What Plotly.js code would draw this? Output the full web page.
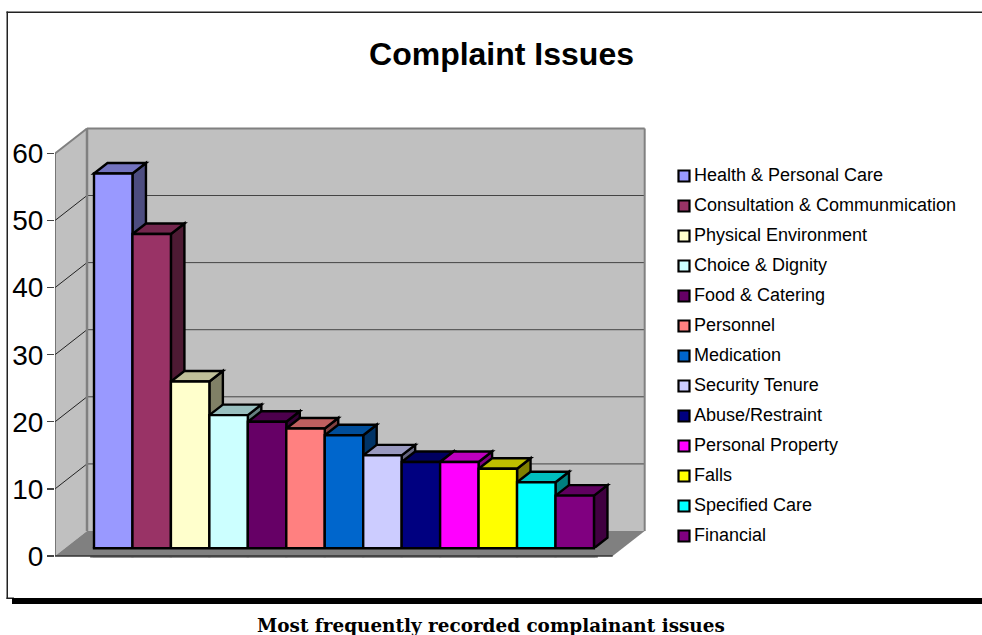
<!DOCTYPE html>
<html>
<head>
<meta charset="utf-8">
<script src="https://cdn.plot.ly/plotly-3.0.1.min.js"></script>
<style>html,body{margin:0;padding:0;background:#fff;overflow:hidden}</style>
</head>
<body>
<div id="chart" style="width:982px;height:635px"></div>
<script>
const categories = ["Health & Personal Care","Consultation & Communmication","Physical Environment","Choice & Dignity","Food & Catering","Personnel","Medication","Security Tenure","Abuse/Restraint","Personal Property","Falls","Specified Care","Financial"];
const values = [57,48,26,21,20,19,18,15,14,14,13,11,9];
const colors = ["#9999FF","#993366","#FFFFCC","#CCFFFF","#660066","#FF8080","#0066CC","#CCCCFF","#000080","#FF00FF","#FFFF00","#00FFFF","#800080"];
const tickValues = [0,10,20,30,40,50,60];

const W = 982, H = 635;
const PXX = 38.46, PXY = 6.71;            // pixels per category / per unit
const wallDX = 32/PXX, wallDY = 25/PXY;   // depth of the chart box
const barDX = 13.5/PXX, barDY = 10.5/PXY; // depth of a bar
const barFloor = 7.8/PXY;                 // bars stand back from the front edge
const xMin = -1.514, xMax = 14.087, yMin = -2.086, yMax = 64.98;
const floorRight = xMin + 557.7/PXX;
const topV = 60;
const FONT = "Liberation Sans, Arial, sans-serif";

function shade(hex, f){
  const n = parseInt(hex.slice(1),16);
  const c = [n>>16&255, n>>8&255, n&255].map(v=>Math.round(v*f));
  return "rgb("+c.join(",")+")";
}
function poly(pts, fill, lineColor, lineW, layer){
  return {type:"path", xref:"x", yref:"y", layer:layer||"below",
    path:"M"+pts.map(p=>p[0]+","+p[1]).join("L")+"Z",
    fillcolor:fill, line:{color:lineColor||fill, width:lineW===undefined?0:lineW}};
}
function seg(x0,y0,x1,y1,color,w,layer){
  return {type:"line", xref:"x", yref:"y", layer:layer||"below", x0,y0,x1,y1, line:{color,width:w}};
}
function pageRect(x0,y0,x1,y1,fill){
  return {type:"rect", xref:"paper", yref:"paper", layer:"below",
    x0:x0/W, x1:x1/W, y0:1-y1/H, y1:1-y0/H, fillcolor:fill, line:{width:0}};
}

const shapes = [];
// page frame
shapes.push(pageRect(6.5,11.5,982,13,"#222"));
shapes.push(pageRect(6.5,11.5,8,599,"#222"));
shapes.push(pageRect(6.5,597.5,14,599,"#222"));
shapes.push(pageRect(12,598,982,604,"#000"));
// walls and floor
shapes.push(poly([[xMin,0],[xMin+wallDX,wallDY],[xMin+wallDX,topV+wallDY],[xMin,topV]],"#C0C0C0"));
shapes.push(poly([[xMin+wallDX,wallDY],[floorRight+wallDX,wallDY],[floorRight+wallDX,topV+wallDY],[xMin+wallDX,topV+wallDY]],"#C0C0C0"));
shapes.push(poly([[xMin,0],[xMin+wallDX,wallDY],[floorRight+wallDX,wallDY],[floorRight,0]],"#808080"));
// gridlines along the left wall and back wall
tickValues.slice(1,-1).forEach(t=>{
  shapes.push(seg(xMin,t,xMin+wallDX,t+wallDY,"#222",1));
  shapes.push(seg(xMin+wallDX,t+wallDY,floorRight+wallDX,t+wallDY,"#444",1));
});
// wall outlines
shapes.push(seg(xMin,topV,xMin+wallDX,topV+wallDY,"#808080",2));
shapes.push(seg(xMin+wallDX,topV+wallDY,floorRight+wallDX,topV+wallDY,"#808080",2));
shapes.push(seg(xMin+wallDX,wallDY,xMin+wallDX,topV+wallDY,"#808080",2.5));
shapes.push(seg(floorRight+wallDX,wallDY,floorRight+wallDX,topV+wallDY,"#808080",2));
shapes.push(seg(xMin,0,xMin,topV,"#444",1.2));
// bar side and top faces, computed from the values
values.forEach((v,i)=>{
  const L=i-.5, R=i+.5;
  shapes.push(poly([[R,v],[R+barDX,v+barDY],[R+barDX,barFloor+barDY],[R,barFloor]],shade(colors[i],.5),"#000",2.4));
  shapes.push(poly([[L,v],[L+barDX,v+barDY],[R+barDX,v+barDY],[R,v]],shade(colors[i],.75),"#000",2.4));
});
// floor strip in front of the bars, and the box's front edge
shapes.push({type:"rect",xref:"x",yref:"y",layer:"above",x0:-.6,x1:12.6,y0:-0.25,y1:barFloor,fillcolor:"#808080",line:{width:0}});
shapes.push(seg(-.53,barFloor,12.53,barFloor,"#000",2.4,"above"));
shapes.push(seg(xMin,0,floorRight,0,"#333",1.5,"above"));

const traces = categories.map((c,i)=>({
  type:"bar", name:c, x:[i], y:[values[i]], width:1,
  marker:{color:colors[i], line:{color:"#000",width:2.4}},
  showlegend:false, hoverinfo:"name+y", xaxis:"x", yaxis:"y"
}));
// key: swatches and labels
traces.push({
  type:"scatter", mode:"markers", x:categories.map(()=>0), y:categories,
  marker:{symbol:"square", size:11, color:colors, line:{color:"#000",width:2.2}},
  showlegend:false, hoverinfo:"skip", cliponaxis:false, xaxis:"x2", yaxis:"y2"
});
traces.push({
  type:"scatter", mode:"text", x:categories.map(()=>10), y:categories,
  text:categories, textposition:"middle right",
  textfont:{family:FONT, size:18, color:"#000"},
  showlegend:false, hoverinfo:"skip", cliponaxis:false, xaxis:"x2", yaxis:"y2"
});

const layout = {
  width:W, height:H, margin:{l:0,r:0,t:0,b:0}, paper_bgcolor:"#fff", plot_bgcolor:"rgba(0,0,0,0)",
  showlegend:false, barmode:"overlay", shapes,
  font:{family:FONT, color:"#000"},
  title:{text:"Complaint Issues", x:501.5/W, y:1-54/H, xanchor:"center", yanchor:"middle",
         font:{family:FONT, size:32, weight:700, color:"#000"}},
  xaxis:{domain:[55/W,655/W], range:[xMin,xMax], showticklabels:false, showgrid:false, zeroline:false, ticks:"", showline:false},
  yaxis:{domain:[1-570/H,1-120/H], range:[yMin,yMax], tickmode:"array", tickvals:tickValues, ticktext:tickValues.map(String),
         tickfont:{size:28, family:FONT, color:"#000"}, ticklabelstandoff:-2,
         ticks:"outside", ticklen:7, tickcolor:"#444", tickwidth:1.2, showgrid:false, zeroline:false, showline:false},
  xaxis2:{domain:[684/W,980/W], range:[0,296], visible:false, anchor:"y2"},
  yaxis2:{domain:[1-551/H,1-161/H], type:"category", categoryorder:"array", categoryarray:categories, range:[12.5,-0.5], visible:false, anchor:"x2"},
  annotations:[{text:"<b>Most frequently recorded complainant issues</b>", xref:"paper", yref:"paper",
    x:490.5/W, y:1-625/H, xanchor:"center", yanchor:"middle", showarrow:false,
    font:{family:"DejaVu Serif, serif", size:18.4, color:"#000"}}]
};
Plotly.newPlot("chart", traces, layout, {staticPlot:true, displayModeBar:false});
</script>
</body>
</html>
